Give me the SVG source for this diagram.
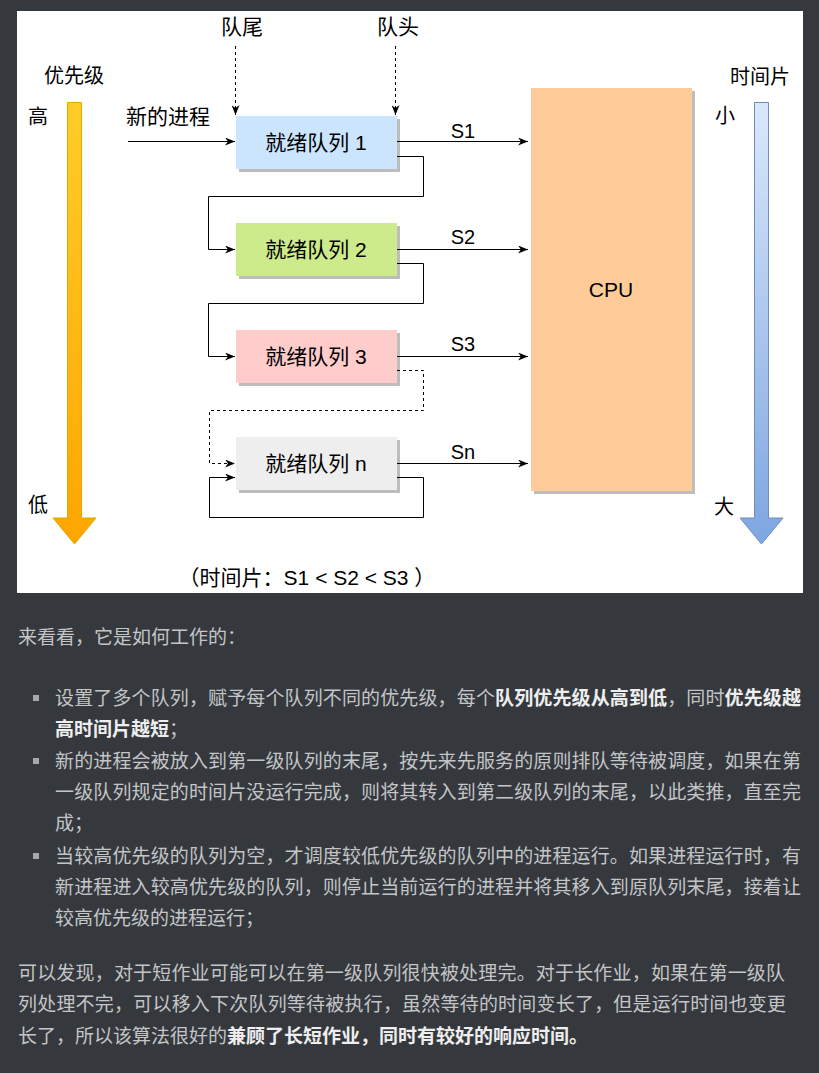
<svg xmlns="http://www.w3.org/2000/svg" width="819" height="1073" viewBox="0 0 819 1073">
<style>
.t{font-family:"Liberation Sans","Noto Sans CJK SC",sans-serif;font-size:21px;fill:#000}
.s{font-family:"Liberation Sans","Noto Sans CJK SC",sans-serif;font-size:20px;fill:#000}
.p{font-family:"Noto Sans CJK SC","Noto Sans",sans-serif;font-size:19px;fill:#c3c5c7}
.b{font-weight:bold;fill:#eeeeee}
.ln{fill:none;stroke:#000;stroke-width:1}
.dash{stroke-dasharray:3,3}
.sh{fill:#bdbdbd}
.bul{fill:#a8a8a8}
</style>
<defs>
<marker id="arr" viewBox="0 0 10 8" refX="10" refY="4" markerWidth="10" markerHeight="8" orient="auto" markerUnits="userSpaceOnUse">
<path d="M0,0 L10,4 L0,8 L3,4 z" fill="#000"/>
</marker>
<linearGradient id="go" x1="0" y1="0" x2="0" y2="1">
<stop offset="0" stop-color="#ffcd28"/><stop offset="1" stop-color="#ffa500"/>
</linearGradient>
<linearGradient id="gb" x1="0" y1="0" x2="0" y2="1">
<stop offset="0" stop-color="#dae8fc"/><stop offset="1" stop-color="#7ea6e0"/>
</linearGradient>
</defs>
<rect x="0" y="0" width="819" height="1073" fill="#35393e"/>
<rect x="17" y="11" width="786" height="582" fill="#ffffff"/>

<g id="priority-arrow">
<path d="M67.5,102.5 H81.5 V518 H96 L74.5,544 L53,518 H67.5 Z" fill="url(#go)" stroke="#e0a800" stroke-width="1"/>
<text class="s" x="74" y="83" text-anchor="middle">优先级</text>
<text class="s" x="38" y="124" text-anchor="middle">高</text>
<text class="s" x="38" y="512" text-anchor="middle">低</text>
</g>
<g id="timeslice-arrow">
<path d="M754.5,102.5 H768.5 V518 H783 L761.5,544 L740,518 H754.5 Z" fill="url(#gb)" stroke="#6c8ebf" stroke-width="1"/>
<text class="s" x="760" y="84" text-anchor="middle">时间片</text>
<text class="s" x="725" y="123" text-anchor="middle">小</text>
<text class="s" x="724" y="514" text-anchor="middle">大</text>
</g>

<g id="cpu">
<rect x="534" y="91" width="161" height="403" class="sh"/>
<rect x="531" y="88" width="161" height="403" fill="#ffcc99"/>
<text class="t" x="611" y="297" text-anchor="middle">CPU</text>
</g>
<g id="q1">
<rect x="239" y="119" width="161" height="53" class="sh"/>
<rect x="236" y="116" width="161" height="53" fill="#cce5ff"/>
<text class="t" x="316" y="150" text-anchor="middle">就绪队列 1</text>
</g>
<g id="q2">
<rect x="239" y="226" width="161" height="53" class="sh"/>
<rect x="236" y="223" width="161" height="53" fill="#cdeb8b"/>
<text class="t" x="316" y="257" text-anchor="middle">就绪队列 2</text>
</g>
<g id="q3">
<rect x="239" y="333" width="161" height="53" class="sh"/>
<rect x="236" y="330" width="161" height="53" fill="#ffcccc"/>
<text class="t" x="316" y="364" text-anchor="middle">就绪队列 3</text>
</g>
<g id="qn">
<rect x="239" y="440" width="161" height="53" class="sh"/>
<rect x="236" y="437" width="161" height="53" fill="#eeeeee"/>
<text class="t" x="316" y="471" text-anchor="middle">就绪队列 n</text>
</g>
<g id="labels">
<text class="t" x="242" y="34" text-anchor="middle">队尾</text>
<text class="t" x="398" y="34" text-anchor="middle">队头</text>
<text class="t" x="168" y="124" text-anchor="middle">新的进程</text>
<text class="s" x="463" y="138" text-anchor="middle">S1</text>
<text class="s" x="463" y="244" text-anchor="middle">S2</text>
<text class="s" x="463" y="351" text-anchor="middle">S3</text>
<text class="s" x="463" y="459" text-anchor="middle">Sn</text>
<text class="t" x="307" y="585" text-anchor="middle">（时间片：S1 &lt; S2 &lt; S3 ）</text>
</g>

<g id="connectors">
<path class="ln dash" d="M235.5,46 V115" marker-end="url(#arr)"/>
<path class="ln dash" d="M395.5,46 V115" marker-end="url(#arr)"/>
<path class="ln" d="M128,141.5 H235" marker-end="url(#arr)"/>
<path class="ln" d="M397,141.5 H528" marker-end="url(#arr)"/>
<path class="ln" d="M397,249.5 H528" marker-end="url(#arr)"/>
<path class="ln" d="M397,356.5 H528" marker-end="url(#arr)"/>
<path class="ln" d="M397,463.5 H528" marker-end="url(#arr)"/>
<path class="ln" d="M397,156.5 H423.5 V196.5 H208.5 V249.5 H235" marker-end="url(#arr)"/>
<path class="ln" d="M397,263.5 H423.5 V303.5 H208.5 V356.5 H235" marker-end="url(#arr)"/>
<path class="ln dash" d="M397,370.5 H423.5 V410.5 H209.5 V463.5 H235" marker-end="url(#arr)"/>
<path class="ln" d="M397,477.5 H423.5 V517.5 H209.5 V477.5 H235" marker-end="url(#arr)"/>
</g>

<g id="page-text">
<text class="p" x="18" y="644">来看看，它是如何工作的：</text>
<rect class="bul" x="33" y="695" width="6" height="6"/>
<text class="p" x="55" y="705" textLength="746" lengthAdjust="spacing">设置了多个队列，赋予每个队列不同的优先级，每个<tspan class="b">队列优先级从高到低</tspan>，同时<tspan class="b">优先级越</tspan></text>
<text class="p" x="55" y="736"><tspan class="b">高时间片越短</tspan>；</text>
<rect class="bul" x="33" y="758" width="6" height="6"/>
<text class="p" x="55" y="768" textLength="746" lengthAdjust="spacing">新的进程会被放入到第一级队列的末尾，按先来先服务的原则排队等待被调度，如果在第</text>
<text class="p" x="55" y="799" textLength="746" lengthAdjust="spacing">一级队列规定的时间片没运行完成，则将其转入到第二级队列的末尾，以此类推，直至完</text>
<text class="p" x="55" y="830">成；</text>
<rect class="bul" x="33" y="853" width="6" height="6"/>
<text class="p" x="55" y="863" textLength="746" lengthAdjust="spacing">当较高优先级的队列为空，才调度较低优先级的队列中的进程运行。如果进程运行时，有</text>
<text class="p" x="55" y="894" textLength="746" lengthAdjust="spacing">新进程进入较高优先级的队列，则停止当前运行的进程并将其移入到原队列末尾，接着让</text>
<text class="p" x="55" y="925">较高优先级的进程运行；</text>
<text class="p" x="18" y="980" textLength="767" lengthAdjust="spacing">可以发现，对于短作业可能可以在第一级队列很快被处理完。对于长作业，如果在第一级队</text>
<text class="p" x="18" y="1011" textLength="768" lengthAdjust="spacing">列处理不完，可以移入下次队列等待被执行，虽然等待的时间变长了，但是运行时间也变更</text>
<text class="p" x="18" y="1043">长了，所以该算法很好的<tspan class="b">兼顾了长短作业，同时有较好的响应时间。</tspan></text>
</g>
</svg>
